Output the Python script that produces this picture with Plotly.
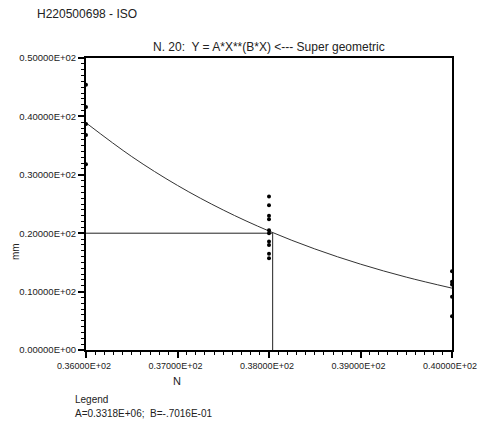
import plotly.graph_objects as go

# Observed data points
x_points = [36, 36, 36, 36, 36,
            38, 38, 38, 38, 38, 38, 38, 38, 38, 38,
            40, 40, 40, 40, 40]
y_points = [45.4, 41.6, 38.7, 36.8, 31.8,
            26.3, 24.8, 23.0, 22.4, 20.5, 20.0, 18.6, 18.0, 16.5, 15.7,
            13.5, 11.7, 11.2, 9.1, 5.8]

# Fitted curve (Y = A*X**(B*X))
curve_x = [36.0, 36.5, 37.0, 37.5, 38.0, 38.5, 39.0, 39.5, 40.0]
curve_y = [38.90, 33.12, 28.18, 23.97, 20.37, 17.31, 14.70, 12.48, 10.59]

# Reference cross-hair
target_x = 38.04
target_y = 20.0

x_ticks = [36, 37, 38, 39, 40]
x_ticktext = ["0.36000E+02", "0.37000E+02", "0.38000E+02", "0.39000E+02", "0.40000E+02"]
y_ticks = [0, 10, 20, 30, 40, 50]
y_ticktext = ["0.00000E+00", "0.10000E+02", "0.20000E+02", "0.30000E+02", "0.40000E+02", "0.50000E+02"]

FONT = "Liberation Sans Narrow, Arial Narrow, Liberation Sans, sans-serif"
TXT = "#222222"

fig = go.Figure()
fig.add_trace(go.Scatter(x=curve_x, y=curve_y, mode="lines",
                         line=dict(color="#333333", width=1, shape="spline"),
                         hoverinfo="skip", showlegend=False))
fig.add_trace(go.Scatter(x=[36, target_x, target_x], y=[target_y, target_y, 0], mode="lines",
                         line=dict(color="#222222", width=1), showlegend=False))
fig.add_trace(go.Scatter(x=x_points, y=y_points, mode="markers",
                         marker=dict(color="black", size=4), showlegend=False))

axis_common = dict(
    showgrid=False, zeroline=False, ticks="outside", automargin=False,
    ticklabeloverflow="allow",
    mirror=True, showline=True, linecolor="black", linewidth=2,
    ticklen=6, tickwidth=1.5, tickcolor="black",
)

fig.update_xaxes(range=[36, 40], tickvals=x_ticks, ticktext=x_ticktext,
                 tickfont=dict(family=FONT, size=9, color=TXT), ticklabelshift=-2,
                 minor=dict(ticks="outside", dtick=0.1, ticklen=3, tickcolor="black", tickwidth=1),
                 **axis_common)
fig.update_yaxes(range=[0, 50], tickvals=y_ticks, ticktext=y_ticktext,
                 tickfont=dict(family=FONT, size=9.5, color=TXT),
                 minor=dict(ticks="outside", dtick=1, ticklen=3, tickcolor="black", tickwidth=1),
                 **axis_common)

def ann(text, x, xshift, y, yshift, xanchor="center", size=10, angle=0):
    return dict(text=text, xref="paper", yref="paper", x=x, y=y, xshift=xshift, yshift=yshift,
                xanchor=xanchor, yanchor="middle", showarrow=False, textangle=angle,
                font=dict(family=FONT, size=size, color=TXT))

fig.update_layout(
    width=477, height=427,
    margin=dict(l=86, r=25, t=58, b=77),
    paper_bgcolor="white", plot_bgcolor="white",
    font=dict(family=FONT, size=11, color=TXT),
    annotations=[
        ann("H220500698 - ISO", 0, -51, 1, 44, xanchor="left", size=12),
        ann("N. 20:  Y = A*X**(B*X) <--- Super geometric", 0.5, 0, 1, 11, size=12),
        ann("N", (177 - 86) / 366, 0, 0, -31, size=11),
        ann("mm", 0, -71, (350 - 252) / 292, 0, size=10, angle=-90),
        ann("Legend", 0, -13, 0, -49, xanchor="left", size=10),
        ann("A=0.3318E+06;  B=-.7016E-01", 0, -13, 0, -63, xanchor="left", size=10),
    ],
)

fig.write_html("out.html", config={"displayModeBar": False},
               post_script="document.body.style.margin='0px';document.body.style.overflow='hidden';")
